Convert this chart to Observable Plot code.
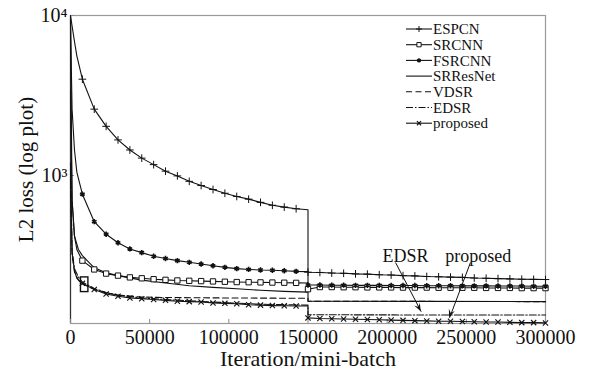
<!DOCTYPE html>
<html>
<head>
<meta charset="utf-8">
<script src="https://cdn.jsdelivr.net/npm/d3@7"></script>
<script src="https://cdn.jsdelivr.net/npm/@observablehq/plot@0.6"></script>
<style>
  html, body { margin: 0; padding: 0; background: #fff; }
  svg { display: block; }
</style>
</head>
<body>
<div id="chart"></div>
<script>
// ---------- data ----------
const xTicks = [0, 50000, 100000, 150000, 200000, 250000, 300000];
const yTicks = [1000, 10000];
const yTickLabels = ["10³", "10⁴"];
const xLabel = "Iteration/mini-batch";
const yLabel = "L2 loss (log plot)";

// iteration grid shared by the series that carry markers
const gridIter = [0, 1000, 2500, 4000, 7500, 15000, 22500, 30000, 37500, 45000, 52500, 60000, 67500, 75000,
  82500, 90000, 97500, 105000, 112500, 120000, 127500, 135000, 142500, 150000,
  150000, 157500, 165000, 172500, 180000, 187500, 195000, 202500, 210000, 217500, 225000, 232500, 240000,
  247500, 255000, 262500, 270000, 277500, 285000, 292500, 300000];

const espcn = [10000, 8600, 6900, 5600, 4000, 2600, 2030, 1670, 1445, 1285, 1170, 1065, 995, 920,
  866, 818, 775, 740, 712, 680, 652, 635, 620, 612,
  249, 248, 246, 245, 243, 242, 240, 239, 237, 236, 234, 233, 232, 231, 229, 228, 227, 226, 225, 224.5, 224];
const srcnn = [3400, 700, 420, 345, 294, 259, 244, 237, 231, 228, 225, 223, 221, 220,
  219, 218, 217, 216, 215.5, 215, 214.5, 214, 213.5, 213,
  195, 201, 201, 200.5, 200.5, 200, 200, 200, 199.5, 199.5, 199.5, 199, 199, 199, 199, 198.5, 198.5, 198.5, 198, 198, 198];
const fsrcnn = [9000, 2600, 1450, 1050, 765, 515, 430, 380, 348, 330, 313, 303, 294, 287,
  280, 273, 267, 262, 259, 257, 256, 254, 252, 251,
  207, 207, 206.5, 206.5, 206, 206, 206, 205.5, 205.5, 205.5, 205, 205, 205, 204.5, 204.5, 204.5, 204, 204, 204, 203.5, 203.5];
const proposed = [950, 330, 255, 228, 212, 194, 182, 176, 172, 170, 168, 166, 164, 163,
  162, 160, 159, 158, 156, 155, 154, 153.5, 153, 153,
  129, 128, 127.5, 127, 126.5, 126, 125.5, 125, 124.5, 124, 123.5, 123, 123, 122.5, 122, 121.5, 121.5, 121, 120.5, 120.5, 120];

// line-only series
const srresnetIter = [0, 1000, 2500, 5000, 7500, 15000, 22500, 30000, 45000, 60000, 75000, 90000, 105000, 120000, 135000, 150000, 150000, 225000, 300000];
const srresnet = [9500, 700, 420, 345, 316, 265, 247, 237, 222, 213, 205, 200, 196, 192, 189, 187, 164, 163.5, 163];
const vdsrIter = [0, 1000, 2500, 5000, 7500, 15000, 22500, 30000, 45000, 60000, 90000, 120000, 150000, 150000, 225000, 300000];
const vdsr = [1200, 320, 250, 222, 210, 195, 185, 179, 174, 173, 172, 171.5, 171, 164, 163.5, 163];
const edsrIter = [0, 1000, 2500, 5000, 7500, 15000, 22500, 30000, 45000, 60000, 90000, 120000, 150000, 150000, 225000, 300000];
const edsr = [1100, 340, 262, 232, 216, 197, 186, 179, 172, 168, 162, 157, 155, 135, 134.5, 134.5];

const seriesNames = ["ESPCN", "SRCNN", "FSRCNN", "SRResNet", "VDSR", "EDSR", "proposed"];

// annotations: label text, label position, arrow start and end (data coordinates)
const annotations = [
  {text: "EDSR", x: 211600, y: 312, x1: 205300, y1: 286, x2: 221500, y2: 141},
  {text: "proposed", x: 257500, y: 312, x1: 252600, y1: 286, x2: 239400, y2: 129}
];
// highlight box near the start of the curves
const boxes = [{x1: 6600, x2: 11300, y1: 187, y2: 231}];

// ---------- build tables ----------
function table(name, xs, ys) {
  const seen = new Set();
  return xs.map((x, i) => {
    const first = !seen.has(x); seen.add(x);
    return {name, x, y: ys[i], i, mark: x > 0 && x % 7500 === 0 && !(x === 150000 && first)};
  });
}
const tEspcn = table("ESPCN", gridIter, espcn);
const tSrcnn = table("SRCNN", gridIter, srcnn);
const tFsrcnn = table("FSRCNN", gridIter, fsrcnn);
const tProposed = table("proposed", gridIter, proposed);
const tSrresnet = table("SRResNet", srresnetIter, srresnet);
const tVdsr = table("VDSR", vdsrIter, vdsr);
const tEdsr = table("EDSR", edsrIter, edsr);

const styles = {
  ESPCN: {dash: null, symbol: "plus", r: 2.6, fill: "none", sw: 1},
  SRCNN: {dash: null, symbol: "square", r: 3.0, fill: "white", sw: 1},
  FSRCNN: {dash: null, symbol: "asterisk", r: 2.5, fill: "none", sw: 1.6},
  SRResNet: {dash: null},
  VDSR: {dash: "6,3.5"},
  EDSR: {dash: "7,2,1.5,2"},
  proposed: {dash: null, symbol: "times", r: 2.5, fill: "none", sw: 1.1}
};

const font = "'Liberation Serif', 'DejaVu Serif', serif";
const yDomain = [119, 10000];
const xDomain = [0, 300000];

const lineMark = (t) => Plot.line(t, {x: "x", y: "y", stroke: "#111", strokeWidth: 1.1,
  strokeDasharray: styles[t[0].name].dash || undefined});
const dotMark = (t) => {
  const s = styles[t[0].name];
  return Plot.dot(t.filter(d => d.mark), {x: "x", y: "y", symbol: () => s.symbol, r: s.r,
    stroke: "#111", fill: s.fill, strokeWidth: s.sw});
};

const chart = Plot.plot({
  width: 592, height: 371,
  marginLeft: 70, marginRight: 47, marginTop: 15, marginBottom: 48,
  style: {fontFamily: font, fontSize: "20px", background: "white", color: "#111"},
  x: {domain: xDomain},
  y: {type: "log", domain: yDomain},
  symbol: {type: "identity"},
  marks: [
    Plot.frame({stroke: "#999", strokeWidth: 1.2}),
    Plot.ruleX([0], {stroke: "#333", strokeWidth: 1.2}),
    Plot.ruleX(xTicks, {y1: yDomain[0], y2: yDomain[0] * 1.06, stroke: "#888"}),
    Plot.ruleY(yTicks, {x1: 0, x2: 2500, stroke: "#888"}),
    Plot.axisX({ticks: xTicks, tickFormat: d3.format("d"), tickSize: 0, tickPadding: 6,
      fontSize: 20, fontVariant: "normal", label: null}),
    Plot.axisX({ticks: [], label: xLabel, labelAnchor: "center", labelOffset: 42, labelArrow: "none", fontSize: 22}),
    Plot.axisY({ticks: yTicks, tickFormat: (d) => yTickLabels[yTicks.indexOf(d)], tickSize: 0, tickPadding: 3,
      fontSize: 20, label: null}),
    Plot.axisY({ticks: [], label: yLabel, labelAnchor: "center", labelOffset: 52, labelArrow: "none", fontSize: 21}),
    lineMark(tSrresnet), lineMark(tVdsr), lineMark(tEdsr),
    lineMark(tEspcn), lineMark(tSrcnn), lineMark(tFsrcnn), lineMark(tProposed),
    dotMark(tSrcnn), dotMark(tFsrcnn), dotMark(tEspcn), dotMark(tProposed),
    Plot.rect(boxes, {x1: "x1", x2: "x2", y1: "y1", y2: "y2", fill: "none", stroke: "#111", strokeWidth: 1.4}),
    Plot.link(annotations, {x1: "x1", y1: "y1", x2: "x2", y2: "y2", stroke: "#111", strokeWidth: 1}),
    Plot.text(annotations, {x: "x", y: "y", text: "text", fontSize: 18, fill: "#111"})
  ]
});
document.getElementById("chart").appendChild(chart);

const svg = d3.select(chart);

// ---------- filled arrowheads, placed through the chart's own scales ----------
const sx = chart.scale("x"), sy = chart.scale("y");
annotations.forEach(a => {
  const x1 = sx.apply(a.x1), y1 = sy.apply(a.y1), x2 = sx.apply(a.x2), y2 = sy.apply(a.y2);
  const ang = Math.atan2(y2 - y1, x2 - x1);
  const L = 8, W = 3.2;
  const bx = x2 - L * Math.cos(ang), by = y2 - L * Math.sin(ang);
  const px = -Math.sin(ang) * W, py = Math.cos(ang) * W;
  svg.append("path")
    .attr("d", `M${x2},${y2}L${bx + px},${by + py}L${x2 - 0.6 * L * Math.cos(ang)},${y2 - 0.6 * L * Math.sin(ang)}L${bx - px},${by - py}Z`)
    .attr("fill", "#111");
});

// ---------- legend (inside plot, top right) ----------
const lg = svg.append("g").attr("transform", "translate(406,29)").attr("text-anchor", "start");
const symbolMap = {plus: d3.symbolPlus, square: d3.symbolSquare, asterisk: d3.symbolAsterisk, times: d3.symbolTimes};
seriesNames.forEach((name, k) => {
  const s = styles[name];
  const g = lg.append("g").attr("transform", `translate(0,${k * 15.7})`);
  g.append("line").attr("x1", 0).attr("x2", 26).attr("y1", 0).attr("y2", 0)
    .attr("stroke", "#111").attr("stroke-width", 1.1).attr("stroke-dasharray", s.dash || null);
  if (s.symbol) {
    g.append("path").attr("transform", "translate(13,0)")
      .attr("d", d3.symbol(symbolMap[s.symbol], Math.PI * (s.r * 0.8) ** 2)())
      .attr("stroke", "#111").attr("fill", s.fill).attr("stroke-width", s.sw);
  }
  g.append("text").attr("x", 27).attr("y", 0).attr("dy", "0.34em").attr("text-anchor", "start")
    .attr("font-family", font).attr("font-size", 15).attr("fill", "#111").text(name);
});
</script>
</body>
</html>
